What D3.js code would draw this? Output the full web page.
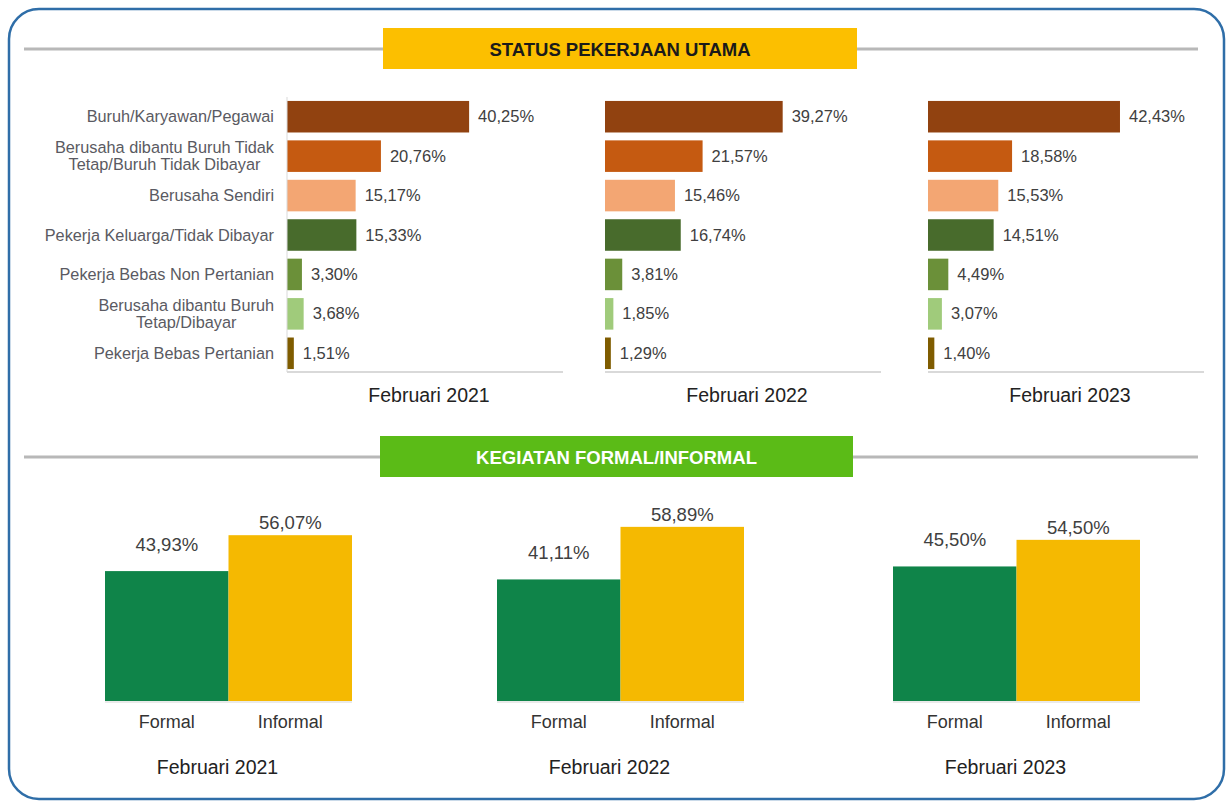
<!DOCTYPE html>
<html>
<head>
<meta charset="utf-8">
<script src="https://cdn.jsdelivr.net/npm/d3@7"></script>
<style>
  body { margin: 0; background: #fff; }
  svg { display: block; font-family: "Liberation Sans", Arial, sans-serif; }
</style>
</head>
<body>
<svg id="chart"></svg>
<script>
// Status pekerjaan utama & kegiatan formal/informal, Februari 2021-2023

const years = ["Februari 2021", "Februari 2022", "Februari 2023"];

const statusCategories = [
    "Buruh/Karyawan/Pegawai",
    "Berusaha dibantu Buruh Tidak\nTetap/Buruh Tidak Dibayar",
    "Berusaha Sendiri",
    "Pekerja Keluarga/Tidak Dibayar",
    "Pekerja Bebas Non Pertanian",
    "Berusaha dibantu Buruh\nTetap/Dibayar",
    "Pekerja Bebas Pertanian"
];

const status2021 = [40.25, 20.76, 15.17, 15.33, 3.30, 3.68, 1.51];
const status2022 = [39.27, 21.57, 15.46, 16.74, 3.81, 1.85, 1.29];
const status2023 = [42.43, 18.58, 15.53, 14.51, 4.49, 3.07, 1.40];

const sectorLabels = ["Formal", "Informal"];
const formalShare = [43.93, 41.11, 45.50];
const informalShare = [56.07, 58.89, 54.50];

const statusColors = ["#914210", "#c55a11", "#f3a673", "#486b2c", "#6b9039", "#a0cb7b", "#7f5c00"];
const sectorColors = ["#0f8449", "#f5b901"];

const W = 1226, H = 802;
const id = d3.formatLocale({ decimal: ",", thousands: ".", grouping: [3], currency: ["Rp", ""] });
const pct = v => id.format(".2f")(v) + "%";

const svg = d3.select("#chart").attr("width", W).attr("height", H);

// frame
svg.append("rect")
    .attr("x", 9).attr("y", 9)
    .attr("width", 1215).attr("height", 790)
    .attr("rx", 30).attr("ry", 30)
    .attr("fill", "#fff")
    .attr("stroke", "#2f6ea8")
    .attr("stroke-width", 2.5);

function sectionHeader(y, x0, x1, fill, textColor, label) {
    svg.append("line")
        .attr("x1", 24).attr("x2", 1198)
        .attr("y1", y).attr("y2", y)
        .attr("stroke", "#b8b8b8").attr("stroke-width", 3);
    svg.append("rect")
        .attr("x", x0).attr("y", y - 21)
        .attr("width", x1 - x0).attr("height", 41)
        .attr("fill", fill);
    svg.append("text")
        .attr("x", (x0 + x1) / 2).attr("y", y + 6.5)
        .attr("text-anchor", "middle")
        .attr("font-size", 18.5).attr("font-weight", "bold")
        .attr("fill", textColor)
        .text(label);
}

sectionHeader(49, 383, 857, "#fcbf00", "#1a1a1a", "STATUS PEKERJAAN UTAMA");
sectionHeader(457, 380, 853, "#5bbb17", "#ffffff", "KEGIATAN FORMAL/INFORMAL");

// ---- top: horizontal bars per year
const statusSeries = [status2021, status2022, status2023];
const topLeft = [287, 605, 928];
const panelW = 276;

const y = d3.scaleBand()
    .domain(statusCategories)
    .range([97, 373])
    .paddingInner(0.2)
    .paddingOuter(0.1);

statusSeries.forEach((values, p) => {
    const x = d3.scaleLinear().domain([0, 61]).range([topLeft[p], topLeft[p] + panelW]);
    const g = svg.append("g");

    g.selectAll("rect")
        .data(values)
        .enter().append("rect")
        .attr("x", x(0))
        .attr("y", (d, i) => y(statusCategories[i]))
        .attr("width", d => x(d) - x(0))
        .attr("height", y.bandwidth())
        .attr("fill", (d, i) => statusColors[i]);

    g.selectAll(".val")
        .data(values)
        .enter().append("text")
        .attr("class", "val")
        .attr("x", d => x(d) + 9)
        .attr("y", (d, i) => y(statusCategories[i]) + y.bandwidth() / 2 + 5.5)
        .attr("font-size", 16.5)
        .attr("fill", "#404040")
        .text(pct);

    // bottom axis line
    g.append("line")
        .attr("x1", x(0)).attr("x2", x(0) + panelW)
        .attr("y1", 372).attr("y2", 372)
        .attr("stroke", "#d9d9d9").attr("stroke-width", 2);

    if (p === 0) {
        g.append("line")
            .attr("x1", x(0)).attr("x2", x(0))
            .attr("y1", 97).attr("y2", 372)
            .attr("stroke", "#d9d9d9").attr("stroke-width", 1);
    }

    g.append("text")
        .attr("x", x(0) + panelW / 2 + 4)
        .attr("y", 402)
        .attr("text-anchor", "middle")
        .attr("font-size", 19.5)
        .attr("fill", "#222")
        .text(years[p]);
});

// category labels (multi-line ones centred inside a right-aligned block)
const labelRight = 274;
statusCategories.forEach(cat => {
    const lines = cat.split("\n");
    const cy = y(cat) + y.bandwidth() / 2;
    const t = svg.append("text")
        .attr("font-size", 16.3)
        .attr("fill", "#5a5a62");
    const spans = lines.map((ln, i) => t.append("tspan")
        .attr("y", cy + 5.5 + (i - (lines.length - 1) / 2) * 16.5)
        .text(ln));
    const maxW = d3.max(spans, s => s.node().getComputedTextLength());
    spans.forEach(s => s.attr("x", labelRight - maxW / 2).attr("text-anchor", "middle"));
});

// ---- bottom: formal / informal columns
const lowerLeft = [105, 497, 893];
const base = 701;
const yv = d3.scaleLinear().domain([0, 70]).range([base, base - 207]);
const labelGap = [20, 6];

years.forEach((yr, p) => {
    const xs = d3.scaleBand()
        .domain(sectorLabels)
        .range([lowerLeft[p], lowerLeft[p] + 247])
        .padding(0);
    const vals = [formalShare[p], informalShare[p]];
    const g = svg.append("g");

    g.selectAll("rect")
        .data(vals)
        .enter().append("rect")
        .attr("x", (d, i) => xs(sectorLabels[i]))
        .attr("y", d => yv(d))
        .attr("width", xs.bandwidth())
        .attr("height", d => base - yv(d))
        .attr("fill", (d, i) => sectorColors[i]);

    g.append("line")
        .attr("x1", lowerLeft[p]).attr("x2", lowerLeft[p] + 247)
        .attr("y1", base + 1).attr("y2", base + 1)
        .attr("stroke", "#e3e3e3").attr("stroke-width", 1.5);

    g.selectAll(".val")
        .data(vals)
        .enter().append("text")
        .attr("class", "val")
        .attr("x", (d, i) => xs(sectorLabels[i]) + xs.bandwidth() / 2)
        .attr("y", (d, i) => yv(d) - labelGap[i])
        .attr("text-anchor", "middle")
        .attr("font-size", 18.5)
        .attr("fill", "#404040")
        .text(pct);

    g.selectAll(".cat")
        .data(sectorLabels)
        .enter().append("text")
        .attr("class", "cat")
        .attr("x", d => xs(d) + xs.bandwidth() / 2)
        .attr("y", 728)
        .attr("text-anchor", "middle")
        .attr("font-size", 18)
        .attr("fill", "#333")
        .text(d => d);

    g.append("text")
        .attr("x", lowerLeft[p] + 247 / 2 - 11)
        .attr("y", 774)
        .attr("text-anchor", "middle")
        .attr("font-size", 19.5)
        .attr("fill", "#222")
        .text(yr);
});
</script>
</body>
</html>
